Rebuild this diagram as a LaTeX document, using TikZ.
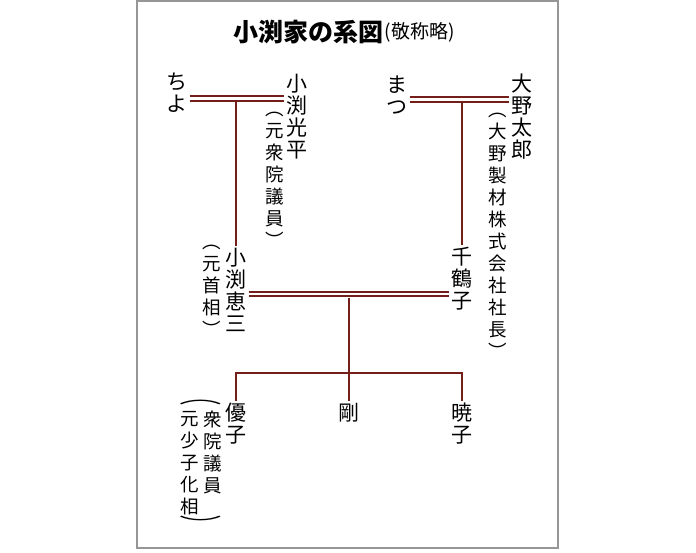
\documentclass[tikz,border=0pt]{standalone}
\usepackage{fontspec}
\usepackage{graphicx}
\newfontfamily\cjk{Noto Sans CJK JP}
\usepackage{tikz}
\usetikzlibrary{positioning}
\usetikzlibrary{calc}
\definecolor{lineRed}{RGB}{115,30,25}
\definecolor{frameGray}{RGB}{150,150,150}

\begin{document}
\begin{tikzpicture}[x=1pt,y=-1pt,
    note/.style={font=\cjk\fontsize{18.5}{22}\selectfont, align=center, inner sep=1pt},
    marriage/.style={draw=lineRed, double=white, double distance=2.6pt, line width=1.9pt},
    descent/.style={draw=lineRed, line width=2.2pt}]
        \useasboundingbox (0,0) rectangle (696,552);
        \draw[frameGray, line width=1.6pt] (137,1) rectangle (558,548);
        % title
        \node[font=\cjk\fontsize{25}{25}\selectfont\bfseries, inner sep=0pt] (title) at (308.5,32) {小渕家の系図};
        \node[font=\cjk\fontsize{19}{19}\selectfont, inner sep=0pt, right=1pt of title] (honorific) {(敬称略)};
        % people
        \begin{scope}[every node/.style={font=\cjk\fontsize{21}{22}\selectfont, align=center, inner sep=1pt}]
            \node (chiyo) at (177,93) {ち\\よ};
            \node (mitsuhira) at (297,117) {小\\渕\\光\\平};
            \node (matsu) at (397,95) {ま\\つ};
            \node (taro) at (522,117) {大\\野\\太\\郎};
            \node (keizo) at (236,290) {小\\渕\\恵\\三};
            \node (chizuko) at (462,279) {千\\鶴\\子};
            \node (yuko) at (236,424) {優\\子};
            \node (tsuyoshi) at (349,413) {剛};
            \node (akiko) at (462,424) {暁\\子};
        \end{scope}
        % remarks
        \node[note] (mitsuhiraNote) at (275,180) {︵\\元\\衆\\院\\議\\員\\︶};
        \node[note] (taroNote) at (498,236) {︵\\大\\野\\製\\材\\株\\式\\会\\社\\社\\長\\︶};
        \node[note] (keizoNote) at (212,291) {︵\\元\\首\\相\\︶};
        \node[note, anchor=north] (yukoNoteA) at (213,410) {衆\\院\\議\\員};
        \node[note, anchor=north] (yukoNoteB) at (190,410) {元\\少\\子\\化\\相};
        \node[note] (yukoOpen) at (201,402) {\scalebox{2.3}[1]{︵}};
        \node[note] (yukoClose) at (201,524) {\scalebox{2.3}[1]{︶}};
        % lines
        \coordinate (w1) at (236,98.5);
        \coordinate (w2) at (462,99.5);
        \coordinate (w3) at (349,294);
        \coordinate (k) at (349,373);
        \begin{scope}[shorten <=1pt, shorten >=1pt]
             \draw[descent] ([yshift=-2.5pt]w1) -- (keizo.north);
             \draw[descent] ([yshift=-2.5pt]w2) -- (chizuko.north);
             \draw[descent] ([yshift=-2.5pt]w3) -- (tsuyoshi.north);
             \draw[descent] (yuko.north) |- (k) -| (akiko.north);
             \draw[marriage] (chiyo.east |- w1) -- (mitsuhira.west |- w1);
             \draw[marriage] (matsu.east |- w2) -- (taro.west |- w2);
             \draw[marriage] (keizo.east |- w3) -- (chizuko.west |- w3);
        \end{scope}
        \end{tikzpicture}
\end{document}
